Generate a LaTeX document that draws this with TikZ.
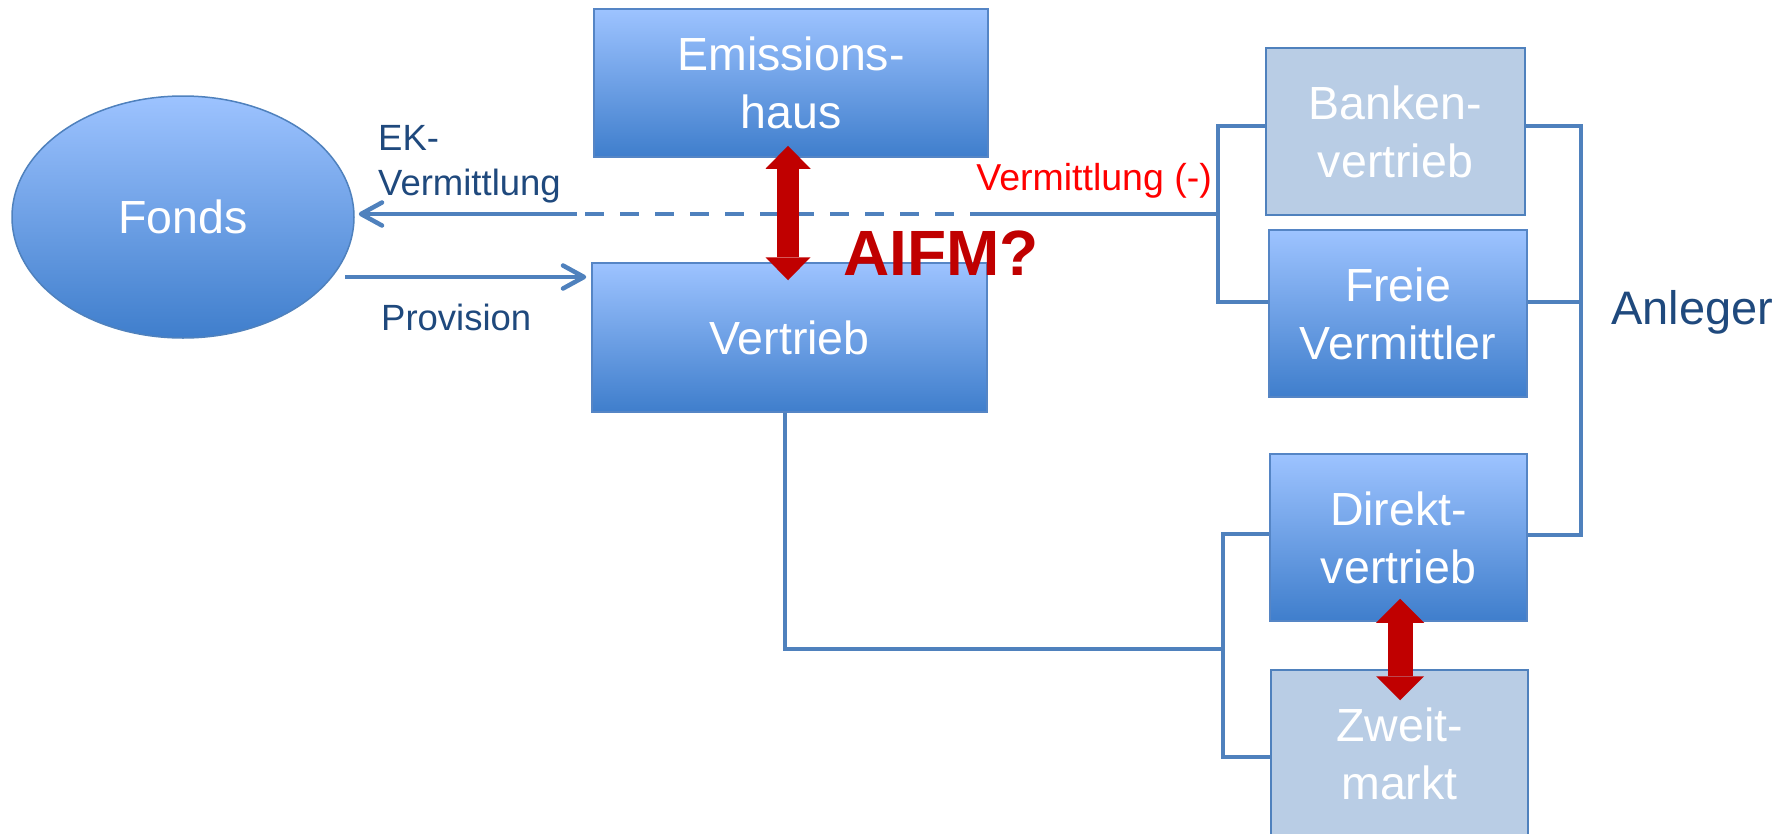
\documentclass[tikz,border=0pt]{standalone}
\usepackage{fontspec}
\setmainfont{Liberation Sans}
\usetikzlibrary{arrows.meta,shapes.geometric}

\definecolor{boxtop}{HTML}{9DC3FF}
\definecolor{boxbot}{HTML}{3F7ECC}
\definecolor{boxedge}{HTML}{5585C5}
\definecolor{grayfill}{HTML}{B9CDE5}
\definecolor{connblue}{HTML}{4F81BD}
\definecolor{arrowred}{HTML}{C00000}
\definecolor{labelred}{HTML}{FF0000}
\definecolor{darkblue}{HTML}{1F497D}

\begin{document}
\begin{tikzpicture}[x=1pt,y=-1pt,
  conn/.style={draw=connblue, line width=4.5pt},
  barb/.style={-{Straight Barb[length=21pt,width=23pt,round]}},
  boxtext/.style={text=white, font=\fontsize{46.5}{58}\selectfont, align=center, inner sep=0pt},
  bluebox/.style={rectangle, boxtext, draw=boxedge, line width=1.5pt,
    top color=boxtop, bottom color=boxbot},
  greybox/.style={rectangle, boxtext, draw=connblue, line width=1.5pt, fill=grayfill},
  lbl/.style={inner sep=0pt, text=darkblue, font=\fontsize{36.5}{45}\selectfont, align=left},
  bigarrow/.style={draw=arrowred, line width=#1},
]
\useasboundingbox (0,0) rectangle (1791,833);

% fund
\node[ellipse, draw=connblue, line width=1.5pt, top color=boxtop, bottom color=boxbot,
      minimum width=342pt, minimum height=242pt, inner sep=0pt,
      text=white, font=\fontsize{46.5}{58}\selectfont] (fonds) at (183,217) {Fonds};

% issuer and sales
\node[bluebox, minimum width=394pt, minimum height=148pt] (emis) at (791,83) {Emissions-\\haus};
\node[bluebox, minimum width=395pt, minimum height=149pt] (vertrieb) at (789.5,337.5) {Vertrieb};

% distribution channels
\node[greybox, minimum width=259pt, minimum height=167pt] (banken) at (1395.5,131.5) {Banken-\\vertrieb};
\node[bluebox, minimum width=258pt, minimum height=167pt] (freie) at (1398,313.5) {Freie\\Vermittler};
\node[bluebox, minimum width=257pt, minimum height=167pt] (direkt) at (1398.5,537.5) {Direkt-\\vertrieb};
\node[greybox, minimum width=257pt, minimum height=167pt] (zweit) at (1399.5,753.5) {Zweit-\\markt};

% brackets
\draw[conn] (banken.west |- 0,126) -- (1218,126) -- (1218,302) -- (freie.west |- 0,302);
\draw[conn] (banken.east |- 0,126) -- (1581,126) -- (1581,535) -- (direkt.east |- 0,535);
\draw[conn] (freie.east |- 0,302) -- (1581,302);
\draw[conn] (direkt.west |- 0,534) -- (1223,534) -- (1223,757) -- (zweit.west |- 0,757);
\draw[conn] ([xshift=-4.5pt]vertrieb.south) |- (1223,649);

% equity placement back to the fund
\coordinate (vsolid) at (1218,214);
\coordinate (vdashR) at (982,214);
\coordinate (vdashL) at (585,214);
\coordinate (vleft) at (577,214);
\draw[conn] (vsolid) -- (vdashR);
\draw[conn, dash pattern=on 19pt off 16pt] (vdashL) -- (vdashR);
\draw[conn, barb, shorten >=4pt] (vleft) -- (fonds.east |- vleft);

% commission
\coordinate (provstart) at (345,277);
\draw[conn, barb, shorten >=5pt] (provstart) -- (vertrieb.west |- provstart);

% labels
\node[lbl, anchor=north west] (ek) at (378,125) {EK-\\Vermittlung};
\node[lbl, anchor=base west] (prov) at (381,330) {Provision};
\node[inner sep=0pt, text=labelred, font=\fontsize{37.5}{45}\selectfont, anchor=base east] (verm) at (1212,190) {Vermittlung (-)};
\node[inner sep=0pt, text=darkblue, font=\fontsize{47}{54}\selectfont, anchor=base west] (anleger) at (1611,324) {Anleger};
\node[inner sep=0pt, text=arrowred, font=\fontsize{64}{70}\selectfont\bfseries, anchor=base west] (aifm) at (843,275) {AIFM?};

% red double arrows
\draw[bigarrow=22pt,
      {Triangle[length=23pt,width=45pt,line width=0pt]}-{Triangle[length=23pt,width=45pt,line width=0pt]},
      shorten <=-12pt, shorten >=-18pt]
  ([xshift=-3pt]emis.south) -- ([xshift=-3pt]emis.south |- vertrieb.north);
\draw[bigarrow=25pt,
      {Triangle[length=24pt,width=48pt,line width=0pt]}-{Triangle[length=24pt,width=48pt,line width=0pt]},
      shorten <=-23pt, shorten >=-31pt]
  ([xshift=1.5pt]direkt.south) -- ([xshift=1.5pt]direkt.south |- zweit.north);
\end{tikzpicture}
\end{document}
